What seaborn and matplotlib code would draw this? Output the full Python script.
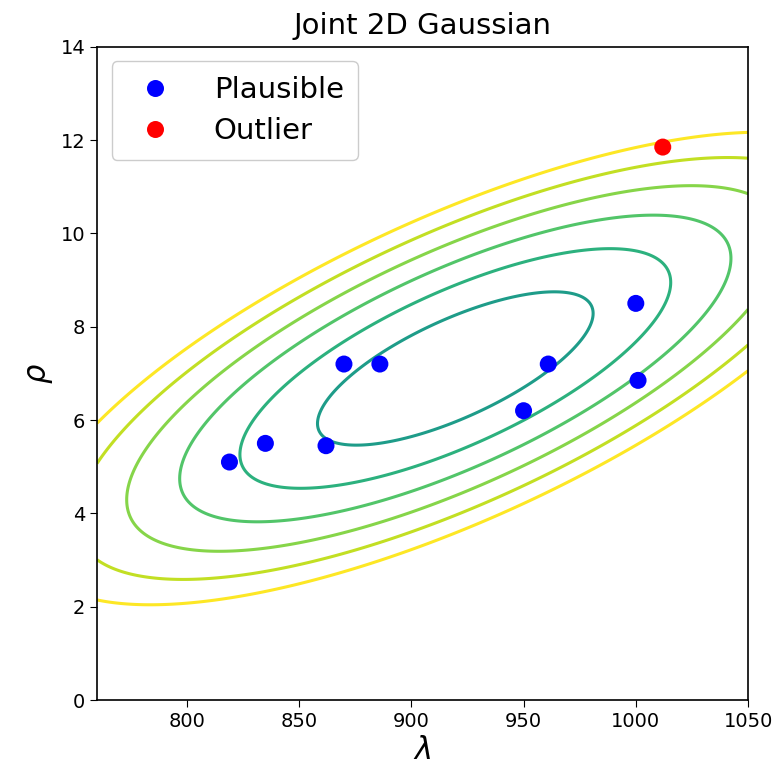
import numpy as np
import pandas as pd
import matplotlib
matplotlib.use("Agg")
import matplotlib.pyplot as plt
import seaborn as sns

# observed points (lambda, rho)
lam = [819, 835, 862, 870, 886, 950, 961, 1000, 1001, 1012]
rho = [5.1, 5.5, 5.45, 7.2, 7.2, 6.2, 7.2, 8.5, 6.85, 11.85]
kind = ["Plausible"] * 9 + ["Outlier"]

# contour levels as squared Mahalanobis distance
levels = [0.70, 1.71, 2.80, 3.98, 5.30, 6.65]

df = pd.DataFrame({"lam": lam, "rho": rho, "kind": kind})

sns.set_style("ticks")
plt.rcParams["font.family"] = ["DejaVu Sans"]
plt.rcParams.update({"text.color": "black", "axes.labelcolor": "black",
                     "xtick.color": "black", "ytick.color": "black"})

fig = plt.figure(figsize=(7.76, 7.74), dpi=100)
ax = fig.add_axes([0.125, 0.0956, 0.839, 0.844])

# Gaussian fitted to all points
pts = np.array([lam, rho])
mu = pts.mean(axis=1)
cov = np.cov(pts)
inv = np.linalg.inv(cov)

gx, gy = np.meshgrid(np.linspace(760, 1050, 400), np.linspace(0, 14, 400))
dx = gx - mu[0]
dy = gy - mu[1]
d2 = inv[0, 0] * dx**2 + 2 * inv[0, 1] * dx * dy + inv[1, 1] * dy**2

cols = [plt.cm.viridis(v) for v in np.linspace(0.55, 1.0, len(levels))]
ax.contour(gx, gy, d2, levels=levels, colors=cols, linewidths=2.2)

sns.scatterplot(data=df, x="lam", y="rho", hue="kind",
                palette={"Plausible": "blue", "Outlier": "red"},
                s=150, edgecolor="none", ax=ax, zorder=3)

ax.set_xlim(760, 1050)
ax.set_ylim(0, 14)
ax.set_xticks([800, 850, 900, 950, 1000, 1050])
ax.set_yticks(range(0, 15, 2))
ax.tick_params(labelsize=14, length=5)
ax.set_xlabel(r"$\lambda$", fontsize=22)
ax.set_ylabel(r"$\rho$", fontsize=22)
ax.set_title("Joint 2D Gaussian", fontsize=21, pad=9)
for sp in ax.spines.values():
    sp.set_color("black")
    sp.set_linewidth(1.2)

leg = ax.legend(loc="upper left", fontsize=21, markerscale=1.0,
                handletextpad=1.0, borderpad=0.5, labelspacing=0.45,
                framealpha=1)
leg.get_frame().set_edgecolor("#cccccc")

fig.savefig("out.png", dpi=100)
